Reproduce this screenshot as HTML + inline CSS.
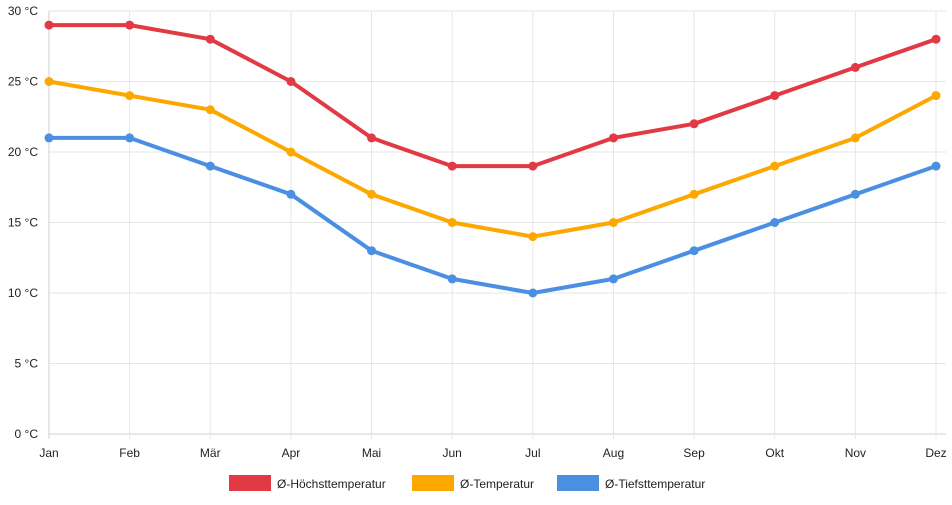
<!DOCTYPE html>
<html><head><meta charset="utf-8"><style>
body{margin:0;background:#fff;font-family:"Liberation Sans",sans-serif;}
svg text{font-family:"Liberation Sans",sans-serif;font-size:12px;fill:#222;}
</style></head><body>
<svg id="chart" width="952" height="500" xmlns="http://www.w3.org/2000/svg">
<g id="grid"></g>
<g id="axes"></g>
<g id="series"></g>
<g id="legend"></g>
</svg>
<script>
const months=["Jan","Feb","Mär","Apr","Mai","Jun","Jul","Aug","Sep","Okt","Nov","Dez"];
const highTemps=[29,29,28,25,21,19,19,21,22,24,26,28];
const avgTemps=[25,24,23,20,17,15,14,15,17,19,21,24];
const lowTemps=[21,21,19,17,13,11,10,11,13,15,17,19];
const yTicks=[0,5,10,15,20,25,30];
const seriesNames=["Ø-Höchsttemperatur","Ø-Temperatur","Ø-Tiefsttemperatur"];
const colors=["#e23a45","#fca800","#4a8fe2"];
const NS="http://www.w3.org/2000/svg";
const x0=49,x1=936,yTop=11,yBot=434;
const xs=i=>x0+(x1-x0)*i/(months.length-1);
const ys=v=>yBot-(yBot-yTop)*v/30;
function mk(tag,attrs,parent){const e=document.createElementNS(NS,tag);for(const k in attrs)e.setAttribute(k,attrs[k]);parent.appendChild(e);return e;}
const grid=document.getElementById('grid'),axes=document.getElementById('axes'),ser=document.getElementById('series'),leg=document.getElementById('legend');
yTicks.forEach(t=>{
 const l=mk('line',{x1:x0,x2:x1+10,y1:ys(t),y2:ys(t),stroke:t===0?'#cfcfcf':'#e6e6e6','stroke-width':1},grid);
 
 
 const tx=mk('text',{x:38,y:ys(t)+4,'text-anchor':'end'},axes);
 tx.textContent=t+' °C';
 
 
});
months.forEach((m,i)=>{
 const l=mk('line',{x1:xs(i),x2:xs(i),y1:yTop,y2:yBot+5,stroke:i===0?'#cfcfcf':'#e6e6e6','stroke-width':1},grid);
 
 
 const tx=mk('text',{x:xs(i),y:457,'text-anchor':'middle'},axes);
 tx.textContent=m;
 
 
});
[highTemps,avgTemps,lowTemps].forEach((arr,s)=>{
 const g=mk('g',{},ser);
 
 
 const p=mk('polyline',{points:arr.map((v,i)=>xs(i)+','+ys(v)).join(' '),fill:'none',stroke:colors[s],'stroke-width':4,'stroke-linejoin':'round'},g);
 
 
 arr.forEach((v,i)=>{
  const c=mk('circle',{cx:xs(i),cy:ys(v),r:4.5,fill:colors[s]},g);
  
  
 });
});
const lx=[229,412,557];
seriesNames.forEach((n,s)=>{
 const g=mk('g',{},leg);
 
 
 mk('rect',{x:lx[s],y:475,width:42,height:16,fill:colors[s]},g);
 const t=mk('text',{x:lx[s]+48,y:488},g);
 t.textContent=n;
});
</script>
</body></html>
